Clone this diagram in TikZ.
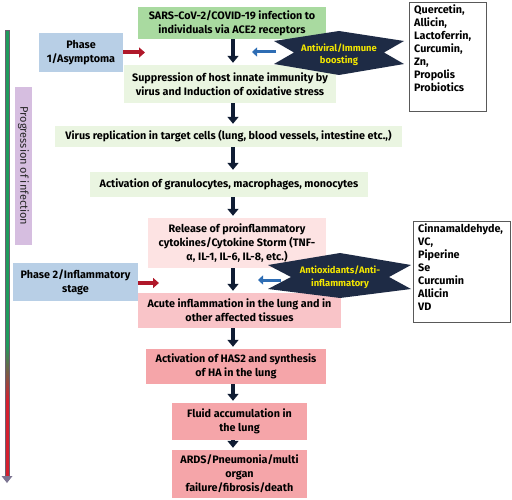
\documentclass[tikz,border=0pt]{standalone}
\usepackage{fontspec}
\setmainfont{Fira Sans}
\usetikzlibrary{arrows.meta}
\definecolor{topgreen}{HTML}{A9DAA0}
\definecolor{palegreen}{HTML}{EAF5E1}
\definecolor{phaseblue}{HTML}{B8CFE6}
\definecolor{lilac}{HTML}{D6BEE0}
\definecolor{palepink}{HTML}{FDE3E3}
\definecolor{midpink}{HTML}{F9C4C8}
\definecolor{deeppink}{HTML}{F5A5A9}
\definecolor{navy}{HTML}{0F1C33}
\definecolor{darkred}{HTML}{B0182A}
\definecolor{arrowblue}{HTML}{2E6DB4}
\definecolor{starfill}{HTML}{1E2B45}
\definecolor{staryellow}{HTML}{F3E600}
\definecolor{barred}{HTML}{D51F2E}
\definecolor{bargreen}{HTML}{1F9B5C}
\tikzset{
	box/.style 2 args={rectangle,inner sep=0pt,fill=#1,minimum width=#2,align=center,font=\bfseries\fontsize{10.8}{14}\selectfont},
	listtext/.style={inner sep=0pt,align=left,font=\bfseries\fontsize{10.8}{12.9}\selectfont},
	startext/.style={inner sep=0pt,align=center,text=staryellow,font=\bfseries\fontsize{9.4}{12.5}\selectfont},
	down/.style={draw=navy,line width=3.6pt,-{Triangle[width=11pt,length=7pt]},shorten >=2pt},
	redarr/.style={draw=darkred,line width=4pt,-{Triangle[width=10pt,length=6pt]}},
	bluearr/.style={draw=arrowblue,line width=3pt,-{Triangle[width=9pt,length=5pt]}}
}
\begin{document}
\begin{tikzpicture}[x=1pt,y=-1pt]
\useasboundingbox (0,0) rectangle (512,500);

% progression bar
\fill[bargreen] (5,30) rectangle (9,345);
\shade[top color=bargreen,bottom color=barred] (5,345) rectangle (9,400);
\fill[barred] (5,400) rectangle (9,476);
\draw[lilac!50!black,line width=0.4pt] (5,476) -- (5,30) -- (9,30) -- (9,476);
\fill[lilac!55!navy] (1.5,476) -- (12.5,476) -- (7,483) -- cycle;
\node[box={lilac}{158pt},minimum height=17pt,rotate=-90,font=\fontsize{11}{12}\selectfont,text=black!85] (progr) at (23.5,166) {Progression of infection};

% main column
\node[box={topgreen}{188pt},minimum height=32pt] (sars) at (232,23) {SARS-CoV-2/COVID-19 infection to\\individuals via ACE2 receptors};
\node[box={palegreen}{212pt},minimum height=38pt] (supp) at (230,84) {Suppression of host innate immunity by\\virus and Induction of oxidative stress};
\node[box={palegreen}{347pt},minimum height=21pt] (virus) at (228.5,136.5) {Virus replication in target cells (lung, blood vessels, intestine etc.,)};
\node[box={palegreen}{278pt},minimum height=25pt] (gran) at (229,184.5) {Activation of granulocytes, macrophages, monocytes};
\node[box={palepink}{178pt},minimum height=50pt] (storm) at (237,243) {Release of proinflammatory\\cytokines/Cytokine Storm (TNF-\\α, IL-1, IL-6, IL-8, etc.)};
\node[box={midpink}{203pt},minimum height=35pt] (acute) at (239.5,310.5) {Acute inflammation in the lung and in\\other affected tissues};
\node[box={deeppink}{180pt},minimum height=35pt] (has2) at (236,366.5) {Activation of HAS2 and synthesis\\of HA in the lung};
\node[box={deeppink}{135pt},minimum height=37pt] (fluid) at (239.5,421.5) {Fluid accumulation in\\the lung};
\node[box={deeppink}{135pt},minimum height=48pt] (ards) at (239.5,474) {ARDS/Pneumonia/multi\\organ\\failure/fibrosis/death};

\coordinate (ax) at (233,0);
\draw[down] (sars.south -| ax) -- (supp.north -| ax);
\draw[down] (supp.south -| ax) -- (virus.north -| ax);
\draw[down] (virus.south -| ax) -- (gran.north -| ax);
\draw[down] (gran.south -| ax) -- (storm.north -| ax);
\draw[down] (storm.south -| ax) -- (acute.north -| ax);
\draw[down] (acute.south -| ax) -- (has2.north -| ax);
\draw[down] (has2.south -| ax) -- (fluid.north -| ax);
\draw[down] (fluid.south -| ax) -- (ards.north -| ax);

% phases
\node[box={phaseblue}{84pt},minimum height=39pt] (ph1) at (81,52.5) {Phase\\1/Asymptoma};
\node[box={phaseblue}{125pt},minimum height=38pt] (ph2) at (75.5,282) {Phase 2/Inflammatory\\stage};
\coordinate (r1) at (145,52.5);
\coordinate (r2) at (159,283);
\draw[redarr] (ph1.east) -- (r1);
\draw[redarr] (ph2.east |- r2) -- (r2);

% supplements
\coordinate (b1) at (276,52);
\coordinate (b1e) at (252,52);
\coordinate (b2) at (281,280);
\coordinate (b2e) at (258,280);
\draw[bluearr] (b1) -- (b1e);
\draw[bluearr] (b2) -- (b2e);
\fill[starfill] (339,31) -- (404,41) -- (384,52.5) -- (404,64) -- (339,75) -- (274,64) -- (294,52.5) -- (274,41) -- cycle;
\node[startext] (anti1) at (339,54.5) {Antiviral/Immune\\boosting};
\fill[starfill] (340,253) -- (411,265) -- (389,277) -- (411,289) -- (340,298) -- (268,289) -- (291,277) -- (268,265) -- cycle;
\node[startext] (anti2) at (340,277) {Antioxidants/Anti-\\inflammatory};

\draw[gray!70!black,line width=0.6pt] (409,2) rectangle (486,111);
\node[listtext,anchor=north west] (querc) at (414,5) {Quercetin,\\Allicin,\\Lactoferrin,\\Curcumin,\\Zn,\\Propolis\\Probiotics};
\draw[gray!70!black,line width=0.6pt] (413,221) rectangle (510,322);
\node[listtext,anchor=north west] (cinn) at (418,224) {Cinnamaldehyde,\\VC,\\Piperine\\Se\\Curcumin\\Allicin\\VD};
\end{tikzpicture}
\end{document}
